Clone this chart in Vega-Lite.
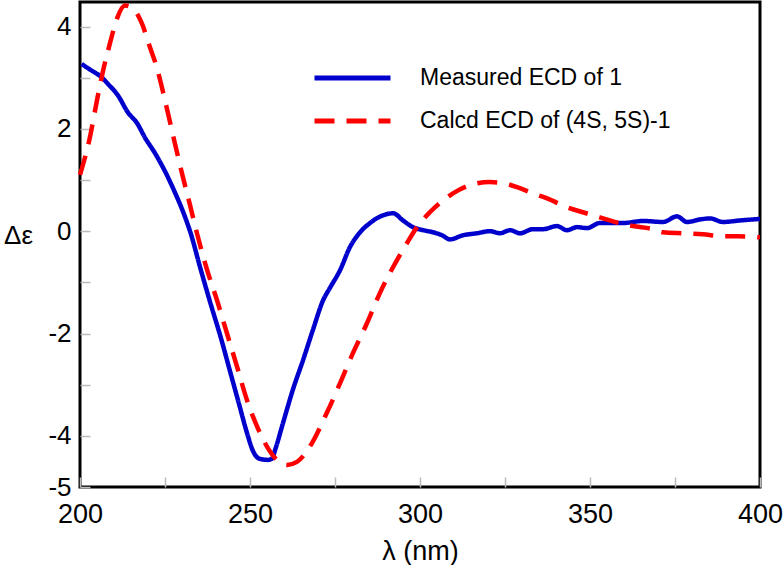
{
  "$schema": "https://vega.github.io/schema/vega-lite/v6.json",
  "width": 680,
  "height": 485,
  "autosize": {"type": "none"},
  "padding": {"left": 80, "top": 2, "right": 23, "bottom": 78},
  "background": "white",
  "config": {
    "view": {"stroke": "black", "strokeWidth": 3},
    "font": "Liberation Sans"
  },
  "datasets": {
    "curves": [
      {"series": "Measured ECD of 1", "wl": 200.5, "de": 3.27},
      {"series": "Measured ECD of 1", "wl": 202, "de": 3.2},
      {"series": "Measured ECD of 1", "wl": 204.4, "de": 3.1},
      {"series": "Measured ECD of 1", "wl": 206, "de": 3.03},
      {"series": "Measured ECD of 1", "wl": 208.2, "de": 2.88},
      {"series": "Measured ECD of 1", "wl": 211.2, "de": 2.65},
      {"series": "Measured ECD of 1", "wl": 214.1, "de": 2.32},
      {"series": "Measured ECD of 1", "wl": 216.8, "de": 2.11},
      {"series": "Measured ECD of 1", "wl": 219.1, "de": 1.83},
      {"series": "Measured ECD of 1", "wl": 222.1, "de": 1.52},
      {"series": "Measured ECD of 1", "wl": 225, "de": 1.17},
      {"series": "Measured ECD of 1", "wl": 227.9, "de": 0.76},
      {"series": "Measured ECD of 1", "wl": 230.6, "de": 0.33},
      {"series": "Measured ECD of 1", "wl": 232.6, "de": -0.05},
      {"series": "Measured ECD of 1", "wl": 235.3, "de": -0.7},
      {"series": "Measured ECD of 1", "wl": 238.2, "de": -1.37},
      {"series": "Measured ECD of 1", "wl": 241.5, "de": -2.1},
      {"series": "Measured ECD of 1", "wl": 244.3, "de": -2.78},
      {"series": "Measured ECD of 1", "wl": 246.7, "de": -3.36},
      {"series": "Measured ECD of 1", "wl": 249.1, "de": -3.94},
      {"series": "Measured ECD of 1", "wl": 250.9, "de": -4.3},
      {"series": "Measured ECD of 1", "wl": 252.9, "de": -4.45},
      {"series": "Measured ECD of 1", "wl": 255.3, "de": -4.47},
      {"series": "Measured ECD of 1", "wl": 256.4, "de": -4.45},
      {"series": "Measured ECD of 1", "wl": 257.5, "de": -4.25},
      {"series": "Measured ECD of 1", "wl": 259.7, "de": -3.75},
      {"series": "Measured ECD of 1", "wl": 262.6, "de": -3.1},
      {"series": "Measured ECD of 1", "wl": 265.6, "de": -2.52},
      {"series": "Measured ECD of 1", "wl": 268.5, "de": -1.93},
      {"series": "Measured ECD of 1", "wl": 271.5, "de": -1.35},
      {"series": "Measured ECD of 1", "wl": 273.5, "de": -1.11},
      {"series": "Measured ECD of 1", "wl": 276.5, "de": -0.76},
      {"series": "Measured ECD of 1", "wl": 279.4, "de": -0.31},
      {"series": "Measured ECD of 1", "wl": 282.4, "de": -0.02},
      {"series": "Measured ECD of 1", "wl": 285.3, "de": 0.16},
      {"series": "Measured ECD of 1", "wl": 289.1, "de": 0.31},
      {"series": "Measured ECD of 1", "wl": 292.1, "de": 0.35},
      {"series": "Measured ECD of 1", "wl": 295, "de": 0.21},
      {"series": "Measured ECD of 1", "wl": 297.9, "de": 0.08},
      {"series": "Measured ECD of 1", "wl": 300.9, "de": 0.02},
      {"series": "Measured ECD of 1", "wl": 303.8, "de": -0.02},
      {"series": "Measured ECD of 1", "wl": 306.5, "de": -0.08},
      {"series": "Measured ECD of 1", "wl": 308.8, "de": -0.16},
      {"series": "Measured ECD of 1", "wl": 312.6, "de": -0.08},
      {"series": "Measured ECD of 1", "wl": 316.8, "de": -0.04},
      {"series": "Measured ECD of 1", "wl": 320.6, "de": 0.0},
      {"series": "Measured ECD of 1", "wl": 323.5, "de": -0.04},
      {"series": "Measured ECD of 1", "wl": 326.5, "de": 0.02},
      {"series": "Measured ECD of 1", "wl": 329.4, "de": -0.04},
      {"series": "Measured ECD of 1", "wl": 333.2, "de": 0.04},
      {"series": "Measured ECD of 1", "wl": 336.2, "de": 0.04},
      {"series": "Measured ECD of 1", "wl": 340.3, "de": 0.1},
      {"series": "Measured ECD of 1", "wl": 343.2, "de": 0.02},
      {"series": "Measured ECD of 1", "wl": 346.2, "de": 0.08},
      {"series": "Measured ECD of 1", "wl": 349.1, "de": 0.06},
      {"series": "Measured ECD of 1", "wl": 352.9, "de": 0.16},
      {"series": "Measured ECD of 1", "wl": 356.8, "de": 0.16},
      {"series": "Measured ECD of 1", "wl": 359.7, "de": 0.16},
      {"series": "Measured ECD of 1", "wl": 365.6, "de": 0.2},
      {"series": "Measured ECD of 1", "wl": 371.5, "de": 0.18},
      {"series": "Measured ECD of 1", "wl": 375.6, "de": 0.29},
      {"series": "Measured ECD of 1", "wl": 378.5, "de": 0.18},
      {"series": "Measured ECD of 1", "wl": 382.4, "de": 0.23},
      {"series": "Measured ECD of 1", "wl": 385.3, "de": 0.25},
      {"series": "Measured ECD of 1", "wl": 389.1, "de": 0.18},
      {"series": "Measured ECD of 1", "wl": 394.1, "de": 0.21},
      {"series": "Measured ECD of 1", "wl": 400, "de": 0.24},
      {"series": "Calcd ECD of (4S, 5S)-1", "wl": 200, "de": 1.1},
      {"series": "Calcd ECD of (4S, 5S)-1", "wl": 202.9, "de": 1.83},
      {"series": "Calcd ECD of (4S, 5S)-1", "wl": 205, "de": 2.56},
      {"series": "Calcd ECD of (4S, 5S)-1", "wl": 206.8, "de": 3.14},
      {"series": "Calcd ECD of (4S, 5S)-1", "wl": 208.8, "de": 3.67},
      {"series": "Calcd ECD of (4S, 5S)-1", "wl": 210.9, "de": 4.16},
      {"series": "Calcd ECD of (4S, 5S)-1", "wl": 213.2, "de": 4.41},
      {"series": "Calcd ECD of (4S, 5S)-1", "wl": 215.6, "de": 4.35},
      {"series": "Calcd ECD of (4S, 5S)-1", "wl": 218.2, "de": 4.06},
      {"series": "Calcd ECD of (4S, 5S)-1", "wl": 220.6, "de": 3.59},
      {"series": "Calcd ECD of (4S, 5S)-1", "wl": 222.6, "de": 3.2},
      {"series": "Calcd ECD of (4S, 5S)-1", "wl": 224.1, "de": 2.81},
      {"series": "Calcd ECD of (4S, 5S)-1", "wl": 225.9, "de": 2.3},
      {"series": "Calcd ECD of (4S, 5S)-1", "wl": 227.9, "de": 1.72},
      {"series": "Calcd ECD of (4S, 5S)-1", "wl": 230, "de": 1.13},
      {"series": "Calcd ECD of (4S, 5S)-1", "wl": 232.4, "de": 0.5},
      {"series": "Calcd ECD of (4S, 5S)-1", "wl": 234.4, "de": -0.04},
      {"series": "Calcd ECD of (4S, 5S)-1", "wl": 237.4, "de": -0.76},
      {"series": "Calcd ECD of (4S, 5S)-1", "wl": 240.3, "de": -1.35},
      {"series": "Calcd ECD of (4S, 5S)-1", "wl": 243.2, "de": -1.99},
      {"series": "Calcd ECD of (4S, 5S)-1", "wl": 246.2, "de": -2.65},
      {"series": "Calcd ECD of (4S, 5S)-1", "wl": 249.1, "de": -3.3},
      {"series": "Calcd ECD of (4S, 5S)-1", "wl": 252.1, "de": -3.82},
      {"series": "Calcd ECD of (4S, 5S)-1", "wl": 255, "de": -4.21},
      {"series": "Calcd ECD of (4S, 5S)-1", "wl": 257.9, "de": -4.47},
      {"series": "Calcd ECD of (4S, 5S)-1", "wl": 260.9, "de": -4.57},
      {"series": "Calcd ECD of (4S, 5S)-1", "wl": 263.8, "de": -4.51},
      {"series": "Calcd ECD of (4S, 5S)-1", "wl": 267.6, "de": -4.21},
      {"series": "Calcd ECD of (4S, 5S)-1", "wl": 272.6, "de": -3.55},
      {"series": "Calcd ECD of (4S, 5S)-1", "wl": 276.5, "de": -2.97},
      {"series": "Calcd ECD of (4S, 5S)-1", "wl": 280.3, "de": -2.38},
      {"series": "Calcd ECD of (4S, 5S)-1", "wl": 284.4, "de": -1.8},
      {"series": "Calcd ECD of (4S, 5S)-1", "wl": 288.2, "de": -1.21},
      {"series": "Calcd ECD of (4S, 5S)-1", "wl": 292.1, "de": -0.7},
      {"series": "Calcd ECD of (4S, 5S)-1", "wl": 296.2, "de": -0.23},
      {"series": "Calcd ECD of (4S, 5S)-1", "wl": 299.1, "de": 0.08},
      {"series": "Calcd ECD of (4S, 5S)-1", "wl": 302.9, "de": 0.37},
      {"series": "Calcd ECD of (4S, 5S)-1", "wl": 306.8, "de": 0.6},
      {"series": "Calcd ECD of (4S, 5S)-1", "wl": 309.7, "de": 0.74},
      {"series": "Calcd ECD of (4S, 5S)-1", "wl": 314.7, "de": 0.9},
      {"series": "Calcd ECD of (4S, 5S)-1", "wl": 320.6, "de": 0.96},
      {"series": "Calcd ECD of (4S, 5S)-1", "wl": 324.4, "de": 0.94},
      {"series": "Calcd ECD of (4S, 5S)-1", "wl": 329.4, "de": 0.84},
      {"series": "Calcd ECD of (4S, 5S)-1", "wl": 333.2, "de": 0.74},
      {"series": "Calcd ECD of (4S, 5S)-1", "wl": 337.4, "de": 0.64},
      {"series": "Calcd ECD of (4S, 5S)-1", "wl": 343.2, "de": 0.47},
      {"series": "Calcd ECD of (4S, 5S)-1", "wl": 347.9, "de": 0.37},
      {"series": "Calcd ECD of (4S, 5S)-1", "wl": 352.9, "de": 0.27},
      {"series": "Calcd ECD of (4S, 5S)-1", "wl": 357.9, "de": 0.17},
      {"series": "Calcd ECD of (4S, 5S)-1", "wl": 362.6, "de": 0.1},
      {"series": "Calcd ECD of (4S, 5S)-1", "wl": 368.5, "de": 0.04},
      {"series": "Calcd ECD of (4S, 5S)-1", "wl": 371.5, "de": -0.02},
      {"series": "Calcd ECD of (4S, 5S)-1", "wl": 377.4, "de": -0.04},
      {"series": "Calcd ECD of (4S, 5S)-1", "wl": 383.2, "de": -0.06},
      {"series": "Calcd ECD of (4S, 5S)-1", "wl": 389.1, "de": -0.1},
      {"series": "Calcd ECD of (4S, 5S)-1", "wl": 393.2, "de": -0.1},
      {"series": "Calcd ECD of (4S, 5S)-1", "wl": 400, "de": -0.12}
    ]
  },
  "layer": [
    {
      "mark": {"type": "rule", "color": "#888888", "strokeWidth": 1.5, "strokeDash": [6, 4]},
      "encoding": {"y": {"datum": 0, "type": "quantitative", "scale": {"domain": [-5, 4.48], "nice": false, "zero": false}}}
    },
    {
      "data": {"name": "curves"},
      "mark": {"type": "line", "strokeWidth": 4.5, "interpolate": "monotone"},
      "encoding": {
        "x": {
          "field": "wl", "type": "quantitative",
          "scale": {"domain": [200, 400], "nice": false, "zero": false},
          "axis": {
            "title": "λ (nm)", "titleFontSize": 27, "titleFontWeight": "normal", "titleColor": "black",
            "titleFont": "Liberation Sans", "titleBaseline": "middle", "titleY": 64,
            "values": [200, 225, 250, 275, 300, 325, 350, 375, 400],
            "labelExpr": "datum.value % 50 == 0 ? datum.label : ''",
            "labelFontSize": 27, "labelColor": "black", "labelFont": "Liberation Sans",
            "labelPadding": 24, "labelFlush": false, "labelOverlap": false,
            "tickSize": -10, "tickColor": "#bbbbbb", "tickWidth": 1.5,
            "domain": false, "grid": false
          }
        },
        "y": {
          "field": "de", "type": "quantitative",
          "scale": {"domain": [-5, 4.48], "nice": false, "zero": false},
          "axis": {
            "title": "Δε", "titleAngle": 0, "titleFontSize": 26, "titleFontWeight": "normal", "titleColor": "black",
            "titleFont": "Liberation Sans", "titleAlign": "center", "titleBaseline": "middle",
            "titleX": -62, "titleY": 233,
            "values": [-5, -4, -3, -2, -1, 0, 1, 2, 3, 4],
            "labelExpr": "(datum.value % 2 == 0 || datum.value == -5) ? replace(datum.label, '−', '-') : ''",
            "labelFontSize": 26, "labelColor": "black", "labelFont": "Liberation Sans",
            "labelPadding": 19, "labelFlush": false, "labelOverlap": false,
            "tickSize": -10, "tickColor": "#bbbbbb", "tickWidth": 1.5,
            "domain": false, "grid": false
          }
        },
        "color": {
          "field": "series", "type": "nominal",
          "scale": {"domain": ["Measured ECD of 1", "Calcd ECD of (4S, 5S)-1"], "range": ["#0000cc", "#ff0000"]},
          "legend": {
            "title": null, "orient": "none", "legendX": 232, "legendY": 66,
            "symbolType": "stroke", "symbolSize": 5776, "symbolStrokeWidth": 5,
            "labelFontSize": 23, "labelColor": "black", "labelFont": "Liberation Sans",
            "labelOffset": 27, "clipHeight": 20, "rowPadding": 20, "padding": 0, "labelLimit": 400
          }
        },
        "strokeDash": {
          "field": "series", "type": "nominal",
          "scale": {"domain": ["Measured ECD of 1", "Calcd ECD of (4S, 5S)-1"], "range": [[1, 0], [20, 12]]},
          "legend": {
            "title": null, "orient": "none", "legendX": 232, "legendY": 66,
            "symbolType": "stroke", "symbolSize": 5776, "symbolStrokeWidth": 5,
            "labelFontSize": 23, "labelColor": "black", "labelFont": "Liberation Sans",
            "labelOffset": 27, "clipHeight": 20, "rowPadding": 20, "padding": 0, "labelLimit": 400
          }
        }
      }
    }
  ]
}
